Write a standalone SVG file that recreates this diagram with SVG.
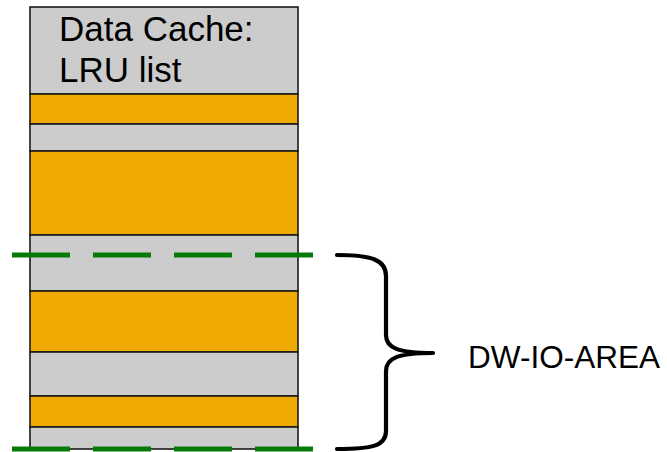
<svg xmlns="http://www.w3.org/2000/svg" width="667" height="452" viewBox="0 0 667 452">
<style>
.g{fill:#CCCCCC;stroke:#1a1a1a;stroke-width:1.6}
.o{fill:#EEAA00;stroke:#1a1a1a;stroke-width:1.6}
.t{font-family:"Liberation Sans",Arial,sans-serif;fill:#000}
.dash{stroke:#067A06;stroke-width:5;stroke-dasharray:58 23;fill:none}
.brace{fill:none;stroke:#000;stroke-width:4.2;stroke-linecap:round;stroke-linejoin:round}
</style>
<rect x="0" y="0" width="667" height="452" fill="#fff"/>
<g id="cache">
<rect class="g" x="30" y="7" width="268" height="87"/>
<rect class="o" x="30" y="94" width="268" height="30"/>
<rect class="g" x="30" y="124" width="268" height="27"/>
<rect class="o" x="30" y="151" width="268" height="84"/>
<rect class="g" x="30" y="235" width="268" height="56"/>
<rect class="o" x="30" y="291" width="268" height="61"/>
<rect class="g" x="30" y="352" width="268" height="44"/>
<rect class="o" x="30" y="396" width="268" height="31"/>
<rect class="g" x="30" y="427" width="268" height="22"/>
<text class="t" x="59" y="41" font-size="35">Data Cache:</text>
<text class="t" x="59" y="82" font-size="35">LRU list</text>
</g>
<g id="connectors">
<line class="dash" x1="12" y1="255" x2="313" y2="255"/>
<line class="dash" x1="12" y1="449" x2="313" y2="449"/>
<path class="brace" d="M337,255 C372,255 386,260 386,276 L386,335 C386,348 398,353 433,353 C398,353 386,358 386,371 L386,431 C386,446 372,449 337,449"/>
</g>
<g id="label">
<text class="t" x="468" y="368" font-size="31.5">DW-IO-AREA</text>
</g>
</svg>
